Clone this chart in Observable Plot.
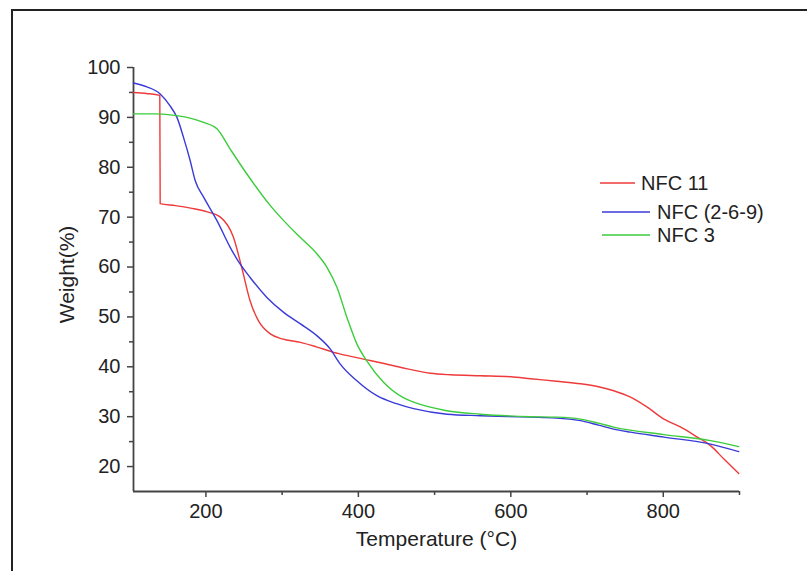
<!DOCTYPE html>
<html>
<head>
<meta charset="utf-8">
<script src="https://cdn.jsdelivr.net/npm/d3@7"></script>
<script src="https://cdn.jsdelivr.net/npm/@observablehq/plot@0.6"></script>
<style>
  html, body { margin: 0; padding: 0; background: #fff; }
  #wrap { position: relative; width: 807px; height: 571px; overflow: hidden; background: #fff; }
  #frame { position: absolute; left: 11px; top: 9px; width: 820px; height: 600px;
           border-left: 2px solid #222; border-top: 2px solid #222; pointer-events: none; }
  svg { font-family: "Liberation Sans", Arial, sans-serif; }
</style>
</head>
<body>
<div id="wrap"><div id="frame"></div></div>
<script>
// Series names and colours
const seriesNames = ["NFC 11", "NFC (2-6-9)", "NFC 3"];
const seriesColors = ["#ee3a3a", "#3a3ad8", "#3ccc3c"];

// NFC 11 (red)
const nfc11Temp = [105, 122, 139.5, 140, 160, 180, 201, 219, 236, 247, 258, 269, 284.5, 300, 324, 345, 367.6, 390, 411, 429, 455, 494.5, 521, 560, 600, 626, 660, 691.5, 715, 735, 757, 779, 801, 823, 844.7, 862, 879.6, 899];
const nfc11Wt   = [95.0, 94.8, 94.4, 72.7, 72.3, 71.8, 71.1, 70.0, 66.0, 59.9, 53.2, 49.2, 46.6, 45.6, 44.9, 44.0, 42.9, 42.1, 41.4, 40.8, 39.9, 38.7, 38.4, 38.2, 38.0, 37.6, 37.1, 36.6, 36.0, 35.2, 33.9, 31.9, 29.5, 27.9, 25.9, 24.2, 21.5, 18.6];

// NFC (2-6-9) (blue)
const nfc269Temp = [105, 122.6, 140, 153, 162, 170.6, 179.4, 186, 197, 214.5, 232, 240.7, 258, 280, 302, 324, 345.8, 363, 376, 398, 424.3, 450, 472.6, 516.4, 560, 626, 660, 691.5, 715, 735, 757, 801, 862, 899];
const nfc269Wt   = [96.9, 96.1, 94.7, 92.3, 90.0, 86.0, 81.3, 77.3, 74.0, 69.3, 63.9, 61.6, 57.9, 53.9, 50.9, 48.6, 46.2, 43.6, 40.6, 37.2, 34.2, 32.6, 31.6, 30.5, 30.2, 29.9, 29.7, 29.2, 28.3, 27.5, 26.9, 25.9, 24.5, 23.0];

// NFC 3 (green)
const nfc3Temp = [105, 133, 153, 175, 197, 214.5, 232, 254, 284.5, 302, 324, 345.8, 359, 372, 385, 398, 411, 433, 459, 472.6, 516, 560, 626, 660, 691.5, 715, 735, 801, 862, 899];
const nfc3Wt   = [90.7, 90.7, 90.5, 90.0, 89.0, 87.7, 83.6, 78.6, 72.3, 69.3, 65.9, 62.6, 59.9, 55.9, 49.9, 44.6, 41.2, 36.9, 33.8, 32.9, 31.2, 30.5, 30.0, 29.9, 29.5, 28.7, 27.9, 26.4, 25.2, 24.0];

// Axis ticks
const xMajor = [200, 400, 600, 800];
const xMinor = [300, 500, 700, 900];
const yMajor = [20, 30, 40, 50, 60, 70, 80, 90, 100];
const yMinor = [25, 35, 45, 55, 65, 75, 85, 95];

const seriesTemps = [nfc11Temp, nfc269Temp, nfc3Temp];
const seriesWts = [nfc11Wt, nfc269Wt, nfc3Wt];
const data = seriesNames.flatMap((name, i) =>
  seriesTemps[i].map((t, j) => ({series: name, t, w: seriesWts[i][j]})));

const axisColor = "#444";
const textColor = "#222";

const chart = Plot.plot({
  width: 807,
  height: 571,
  marginLeft: 133,
  marginRight: 68,
  marginTop: 67,
  marginBottom: 80,
  style: {background: "transparent", fontFamily: "Liberation Sans, Arial, sans-serif"},
  x: {domain: [105, 900]},
  y: {domain: [15, 100]},
  color: {domain: seriesNames, range: seriesColors},
  marks: [
    Plot.axisX({ticks: xMajor, tickSize: 6, tickPadding: 6, fontSize: 20, stroke: axisColor, strokeWidth: 1.5, fill: textColor, label: null}),
    Plot.axisX({ticks: xMinor, tickSize: 4, text: null, stroke: axisColor, strokeWidth: 1.5, label: null}),
    Plot.axisY({ticks: yMajor, tickSize: 6, tickPadding: 7, fontSize: 20, stroke: axisColor, strokeWidth: 1.5, fill: textColor, label: null}),
    Plot.axisY({ticks: yMinor, tickSize: 4, text: null, stroke: axisColor, strokeWidth: 1.5, label: null}),
    Plot.ruleX([105], {stroke: axisColor, strokeWidth: 1.8}),
    Plot.ruleY([15], {stroke: axisColor, strokeWidth: 1.8}),
    Plot.line(data, {x: "t", y: "w", z: "series", stroke: "series", strokeWidth: 1.4, curve: "monotone-x"}),
    Plot.text(["Temperature (°C)"], {frameAnchor: "bottom", dy: 48, textAnchor: "middle", lineAnchor: "middle", fontSize: 21, fill: textColor}),
    Plot.text(["Weight(%)"], {frameAnchor: "left", dx: -66, dy: -5, rotate: -90, textAnchor: "middle", lineAnchor: "middle", fontSize: 21, fill: textColor})
  ]
});

document.getElementById("wrap").appendChild(chart);

// Legend
const svg = d3.select(chart);
const legendRows = [
  {x1: 600, x2: 635, y: 183, tx: 641},
  {x1: 602, x2: 650, y: 212, tx: 657},
  {x1: 602, x2: 650, y: 235, tx: 657}
];
const lg = svg.append("g").attr("text-anchor", "start");
seriesNames.forEach((name, i) => {
  const r = legendRows[i];
  lg.append("line").attr("x1", r.x1).attr("x2", r.x2).attr("y1", r.y).attr("y2", r.y)
    .attr("stroke", seriesColors[i]).attr("stroke-width", 1.3);
  lg.append("text").attr("x", r.tx).attr("y", r.y).attr("dy", "0.36em")
    .attr("text-anchor", "start")
    .attr("font-size", 20).attr("fill", textColor).text(name);
});
</script>
</body>
</html>
